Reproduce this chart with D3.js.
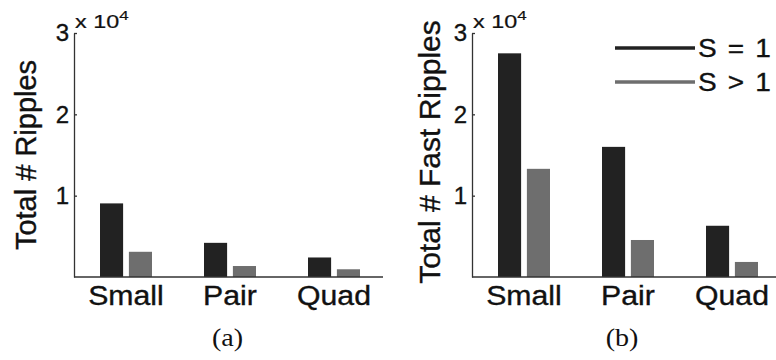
<!DOCTYPE html>
<html>
<head>
<meta charset="utf-8">
<script src="https://cdn.jsdelivr.net/npm/d3@7"></script>
<style>
  body { margin: 0; background: #fff; }
  text { font-family: "Liberation Sans", Arial, sans-serif; fill: #111; stroke: #111; stroke-width: 0.35px; }
  text.caption { font-family: "Liberation Serif", "Times New Roman", serif; stroke: none; }
</style>
</head>
<body>
<div id="chart"></div>
<script>
var categories = ["Small", "Pair", "Quad"];
var seriesNames = ["S = 1", "S > 1"];
var ripplesSingle = [9050, 4200, 2400];
var ripplesMulti = [3100, 1350, 950];
var fastSingle = [27500, 16000, 6300];
var fastMulti = [13300, 4550, 1850];
var yTicks = [10000, 20000, 30000];
var colors = ["#222222", "#6e6e6e"];

var svg = d3.select("#chart")
  .append("svg")
  .attr("width", 776)
  .attr("height", 360);

var y = d3.scaleLinear().domain([0, 30000]).range([277, 33]);
var color = d3.scaleOrdinal().domain(seriesNames).range(colors);

function drawPanel(opts) {
  var g = svg.append("g");

  var x0 = d3.scaleBand().domain(categories).range(opts.band);
  var x1 = d3.scaleBand()
    .domain(seriesNames)
    .range([x0.bandwidth() / 2 - 26, x0.bandwidth() / 2 + 26])
    .paddingInner(0.2);

  var groups = categories.map(function (c, i) {
    return { cat: c, vals: [
      { s: seriesNames[0], v: opts.single[i] },
      { s: seriesNames[1], v: opts.multi[i] }
    ] };
  });

  // bars
  g.selectAll("g.grp")
    .data(groups)
    .enter()
    .append("g")
    .attr("class", "grp")
    .attr("transform", d => `translate(${x0(d.cat)}, 0)`)
    .selectAll("rect")
    .data(d => d.vals)
    .enter()
    .append("rect")
    .attr("x", d => x1(d.s))
    .attr("width", x1.bandwidth())
    .attr("y", d => y(d.v))
    .attr("height", d => y(0) - y(d.v))
    .attr("fill", d => color(d.s));

  // y axis
  var yAxis = g.append("g")
    .attr("transform", `translate(${opts.axisX}, 0)`)
    .call(d3.axisLeft(y)
      .tickValues(yTicks)
      .tickFormat(d => d / 10000)
      .tickSizeInner(-3)
      .tickSizeOuter(0)
      .tickPadding(5));
  yAxis.attr("font-size", 24).attr("font-family", null);
  yAxis.selectAll("path, line").attr("stroke", "#333").attr("stroke-width", 1.3);
  yAxis.selectAll("text").attr("fill", "#111");

  // x axis baseline
  g.append("line")
    .attr("x1", opts.axisX)
    .attr("x2", opts.xEnd)
    .attr("y1", y(0))
    .attr("y2", y(0))
    .attr("stroke", "#333")
    .attr("stroke-width", 1.3);

  // x labels
  var xAxis = g.append("g")
    .attr("transform", `translate(0, ${y(0)})`)
    .call(d3.axisBottom(x0).tickSize(0).tickPadding(9));
  xAxis.select(".domain").remove();
  xAxis.attr("font-size", 27).attr("font-family", null);
  xAxis.selectAll("text").attr("fill", "#111").attr("transform", "scale(1.12,1)");

  // y label
  g.append("text")
    .attr("transform", `translate(${opts.labelX}, ${opts.labelY}) rotate(-90)`)
    .attr("text-anchor", "middle")
    .attr("font-size", opts.labelSize)
    .text(opts.yLabel);

  // exponent
  var ex = g.append("text")
    .attr("transform", `translate(${opts.axisX + 1}, 28) scale(1.3,1)`)
    .attr("font-size", 18)
    .style("stroke-width", "0.2px");
  ex.append("tspan").text("x 10");
  ex.append("tspan").attr("font-size", 13).attr("dy", -8).text("4");

  // panel caption
  svg.append("text")
    .attr("class", "caption")
    .attr("transform", `translate(${opts.captionX}, 346) scale(1.08,1)`)
    .attr("text-anchor", "middle")
    .attr("font-size", 26)
    .text(opts.caption);
}

drawPanel({
  single: ripplesSingle, multi: ripplesMulti,
  band: [74, 386], axisX: 74, xEnd: 383,
  yLabel: "Total # Ripples", labelX: 36, labelY: 155, labelSize: 29,
  caption: "(a)", captionX: 227.5
});

drawPanel({
  single: fastSingle, multi: fastMulti,
  band: [472, 784], axisX: 472, xEnd: 776,
  yLabel: "Total # Fast Ripples", labelX: 440, labelY: 152, labelSize: 30,
  caption: "(b)", captionX: 622
});

// legend
var legend = svg.append("g");
var legendY = [48, 82];
seriesNames.forEach(function (s, i) {
  legend.append("line")
    .attr("x1", 615).attr("x2", 695)
    .attr("y1", legendY[i]).attr("y2", legendY[i])
    .attr("stroke", color(s))
    .attr("stroke-width", 3.5);
  legend.append("text")
    .attr("transform", `translate(698, ${legendY[i] + 9}) scale(1.12,1)`)
    .attr("font-size", 25)
    .attr("word-spacing", 3)
    .text(s);
});
</script>
</body>
</html>
